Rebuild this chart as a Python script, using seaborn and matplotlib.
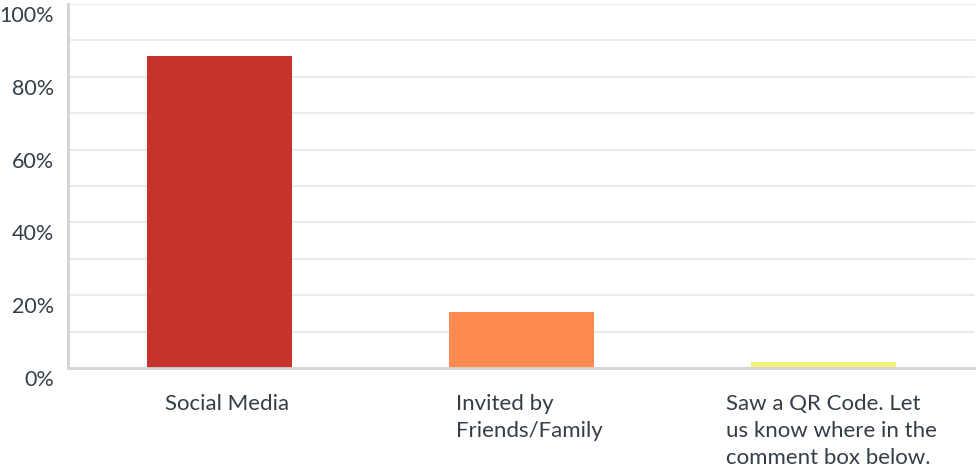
import matplotlib
matplotlib.use("Agg")
import matplotlib.pyplot as plt
import matplotlib.transforms as mtransforms
import seaborn as sns
import pandas as pd

# Data
categories = ["Social Media", "Invited by\nFriends/Family",
              "Saw a QR Code. Let\nus know where in the\ncomment box below."]
percent = [85.7, 15.3, 1.7]
bar_colors = ["#C5332B", "#FF8B4F", "#F6F27A"]
y_ticks = [0, 20, 40, 60, 80, 100]
y_ticklabels = ["0%", "20%", "40%", "60%", "80%", "100%"]

sns.set_style("white")
plt.rcParams["font.family"] = ["Lato", "DejaVu Sans"]

df = pd.DataFrame({"answer": categories, "pct": percent})

fig = plt.figure(figsize=(9.76, 4.74), dpi=100)
ax = fig.add_axes([68 / 976, 1 - 368 / 474, 907 / 976, 364 / 474])

# grid lines every 10%
for v in range(10, 101, 10):
    ax.axhline(v, color="#ebebeb", linewidth=1.5, zorder=0)

sns.barplot(data=df, x="answer", y="pct", hue="answer", palette=bar_colors,
            width=0.48, legend=False, saturation=1, linewidth=0, ax=ax, zorder=2)

ax.set_ylim(0, 100)
ax.set_xlim(-0.5, 2.5)
ax.set_yticks(y_ticks)
ax.set_yticklabels(y_ticklabels)
ax.set_xlabel("")
ax.set_ylabel("")

ax.tick_params(axis="y", length=0, pad=10, labelsize=15.5, labelcolor="#333e48")
ax.tick_params(axis="x", length=0, pad=19, labelsize=16, labelcolor="#333e48")

# y labels sit a little below their grid lines
offset = mtransforms.ScaledTranslation(0, -10 / 100, fig.dpi_scale_trans)
for lbl in ax.get_yticklabels():
    lbl.set_transform(lbl.get_transform() + offset)

# x labels: left-aligned block, nudged a bit right
xoff = mtransforms.ScaledTranslation(8 / 100, 0, fig.dpi_scale_trans)
for lbl in ax.get_xticklabels():
    lbl.set_multialignment("left")
    lbl.set_linespacing(1.42)
    lbl.set_verticalalignment("top")
    lbl.set_transform(lbl.get_transform() + xoff)

for side in ["top", "right"]:
    ax.spines[side].set_visible(False)
for side in ["left", "bottom"]:
    ax.spines[side].set_color("#d3d3d3")
    ax.spines[side].set_linewidth(2)

fig.savefig("out.png", dpi=100)
